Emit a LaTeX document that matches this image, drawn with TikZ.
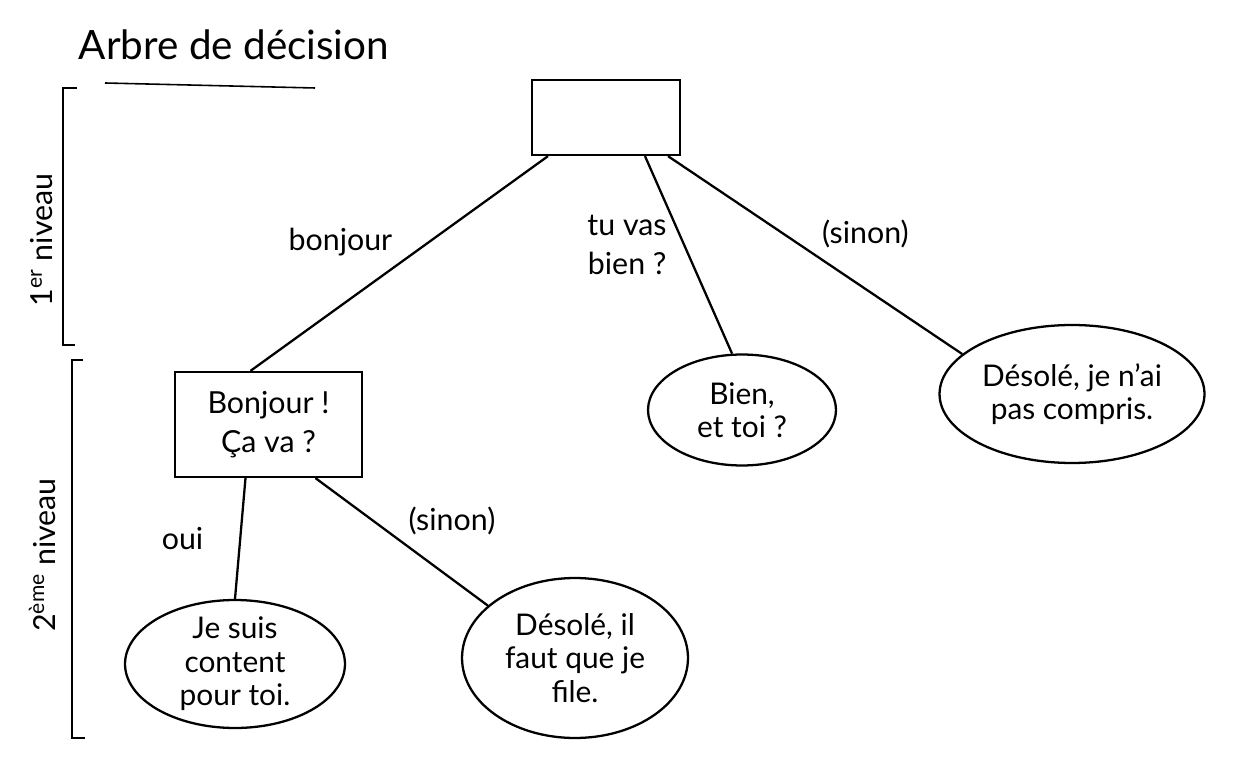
\documentclass[tikz,border=0pt]{standalone}
\usepackage{fontspec}
\setmainfont{Lato}
\usepackage{tikz}
\usetikzlibrary{calc, shapes.geometric}

\begin{document}
\begin{tikzpicture}[
        x=0.02cm, y=-0.02cm,
        font=\LARGE,
        line width=1.3pt,
        box/.style={
            draw, rectangle,
            align=center,
            inner sep=2pt
        },
        bubble/.style={
            draw, ellipse,
            align=center,
            inner sep=-4pt,
            font=\fontsize{17}{19}\selectfont
        },
        lbl/.style={font=\LARGE, align=center},
        lvl/.style={rotate=90, font=\LARGE},
    ]
    \useasboundingbox (0,0) rectangle (1236,759);

    %============================================================
    % Title
    %============================================================
    \node[anchor=west, font=\fontsize{23}{26}\selectfont] (TITLE) at (72,45) {Arbre de décision};
    \draw[line width=0.9pt] (105,83) -- (315,88);

    %============================================================
    % Level brackets
    %============================================================
    \draw[line width=1pt] (77,88) -- (63,88) -- (63,345) -- (75,345);
    \draw[line width=1pt] (83,360) -- (72,360) -- (72,738) -- (85,738);
    \node[lvl] (LVL1) at (42,240) {1\textsuperscript{er} niveau};
    \node[lvl] (LVL2) at (42,555) {2\textsuperscript{ème} niveau};

    %============================================================
    % 1st level: root and its answers
    %============================================================
    \node[box, minimum width=2.96cm, minimum height=1.5cm] (ROOT) at (606,117.5) {};

    \node[box, minimum width=3.74cm, minimum height=2.1cm] (BONJ) at (268.5,424.5) {Bonjour !\\Ça va ?};
    \node[bubble, minimum width=3.76cm, minimum height=2.22cm] (BIEN) at (742,410) {Bien,\\et toi ?};
    \node[bubble, minimum width=5.3cm, minimum height=2.76cm] (NOCOMP) at (1072,394) {Désolé, je n'ai\\pas compris.};

    \draw ($(ROOT.south)+(-58,0)$) -- node[lbl, above left] {bonjour} ($(BONJ.north)+(-18,0)$);
    \draw ($(ROOT.south)+(39,0)$) -- node[lbl, left, align=right, xshift=-0.3cm, yshift=0.2cm] {tu vas\\bien ?} (BIEN.100);
    \draw ($(ROOT.south)+(62,0)$) -- node[lbl, above right] {(sinon)} (NOCOMP.160);

    %============================================================
    % 2nd level: answers to "Bonjour ! Ça va ?"
    %============================================================
    \node[bubble, minimum width=4.4cm, minimum height=2.56cm] (CONTENT) at (235,664) {Je suis\\content\\pour toi.};
    \node[bubble, minimum width=4.52cm, minimum height=3.2cm] (FILE) at (575,658) {Désolé, il\\faut que je\\file.};

    \draw ($(BONJ.south)+(-23,0)$) -- node[lbl, left, xshift=-0.6cm] {oui} (CONTENT.north);
    \draw ($(BONJ.south)+(47,0)$) -- node[lbl, above right] {(sinon)} (FILE.149);

\end{tikzpicture}
\end{document}
